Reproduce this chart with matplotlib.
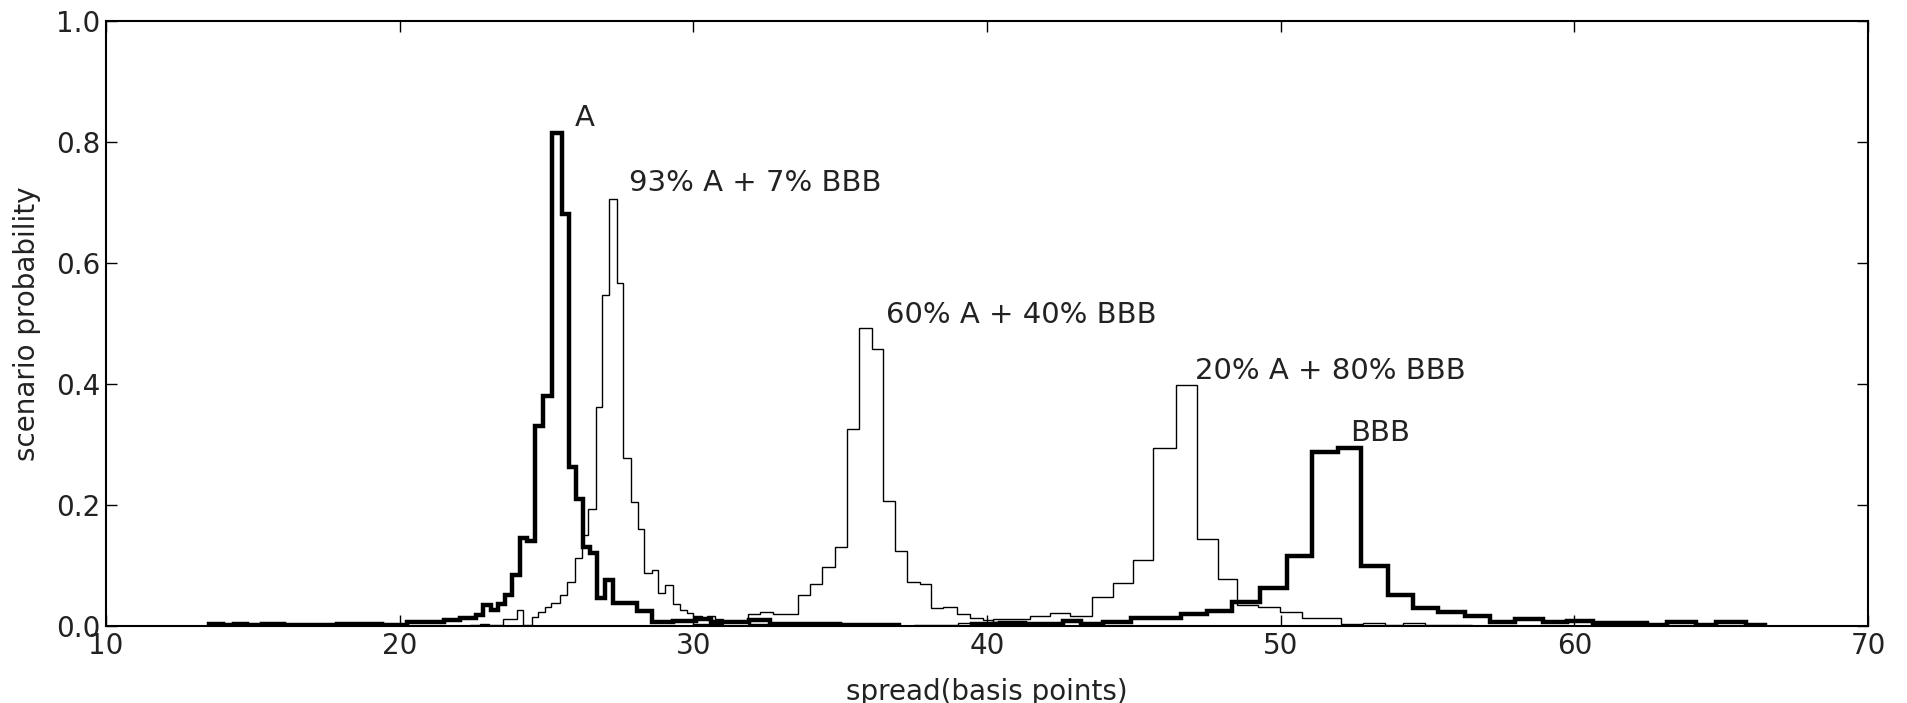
import matplotlib
matplotlib.use("Agg")
import matplotlib.pyplot as plt

# ---- data ----
edges_A = [13.5, 14.0, 14.35, 14.8, 15.3, 16.05, 17.85, 18.65, 19.4, 20.25, 20.9, 21.5,
           22.05, 22.6, 22.85, 23.1, 23.36, 23.6, 23.81, 24.10, 24.35, 24.61, 24.89, 25.20,
           25.52, 25.77, 26.00, 26.25, 26.48, 26.71, 26.99, 27.28, 28.07, 28.58, 29.3, 30.1,
           30.6, 31.9, 32.6, 35.0, 37.0]
prob_A = [0.004, 0.001, 0.004, 0.001, 0.004, 0.001, 0.004, 0.004, 0.002, 0.006, 0.007, 0.010,
          0.014, 0.018, 0.035, 0.026, 0.037, 0.051, 0.084, 0.145, 0.140, 0.330, 0.380, 0.815,
          0.680, 0.262, 0.210, 0.130, 0.120, 0.046, 0.076, 0.038, 0.024, 0.007, 0.009, 0.012,
          0.007, 0.010, 0.004, 0.002]

edges_93 = [22.4, 22.75, 23.05, 23.53, 23.98, 24.21, 24.49, 24.72, 24.95, 25.17, 25.46, 25.69,
            25.97, 26.20, 26.42, 26.68, 26.88, 27.13, 27.39, 27.62, 27.88, 28.10, 28.33, 28.58,
            28.81, 29.03, 29.30, 29.54, 29.77, 30.0, 30.28, 30.45, 30.74, 31.02, 31.87, 33.0]
prob_93 = [0.002, 0.004, 0.002, 0.012, 0.026, 0.002, 0.015, 0.023, 0.031, 0.038, 0.051, 0.073,
           0.112, 0.150, 0.194, 0.362, 0.547, 0.706, 0.566, 0.277, 0.205, 0.161, 0.087, 0.092,
           0.054, 0.068, 0.037, 0.027, 0.021, 0.016, 0.014, 0.016, 0.012, 0.008, 0.003]

edges_60 = [30.0, 31.0, 31.87, 32.27, 32.72, 33.57, 33.97, 34.37, 34.82, 35.22, 35.64, 36.07,
            36.47, 36.87, 37.26, 37.72, 38.11, 38.51, 38.97, 39.42, 39.87, 40.21, 41.0, 42.0]
prob_60 = [0.003, 0.006, 0.020, 0.0225, 0.019, 0.051, 0.070, 0.097, 0.131, 0.326, 0.492, 0.457,
           0.206, 0.124, 0.073, 0.070, 0.029, 0.032, 0.020, 0.014, 0.010, 0.006, 0.002]

edges_20 = [37.5, 39.0, 40.21, 40.9, 41.46, 42.14, 42.83, 43.56, 44.30, 44.98, 45.66, 46.43,
            47.14, 47.87, 48.53, 49.24, 49.97, 50.71, 52.07, 52.81, 53.55, 54.17, 54.91, 56.5]
prob_20 = [0.002, 0.005, 0.011, 0.012, 0.016, 0.022, 0.016, 0.048, 0.0705, 0.109, 0.294, 0.398,
           0.143, 0.077, 0.035, 0.031, 0.0225, 0.014, 0.003, 0.005, 0.002, 0.005, 0.001]

edges_BBB = [39.5, 40.44, 41.3, 42.6, 43.2, 43.96, 44.92, 46.6, 47.48, 48.33, 49.29, 50.20,
             51.05, 51.96, 52.75, 53.66, 54.51, 55.37, 56.27, 57.12, 57.98, 58.94, 59.74,
             60.64, 62.46, 63.14, 64.16, 64.84, 65.86, 66.5]
prob_BBB = [0.003, 0.005, 0.003, 0.008, 0.003, 0.007, 0.013, 0.019, 0.025, 0.040, 0.062, 0.115,
            0.288, 0.294, 0.099, 0.051, 0.030, 0.023, 0.016, 0.007, 0.011, 0.006, 0.008, 0.005,
            0.002, 0.006, 0.002, 0.006, 0.001]

labels = ["A", "93% A + 7% BBB", "60% A + 40% BBB", "20% A + 80% BBB", "BBB"]
label_x = [25.97, 27.8, 36.56, 47.08, 52.38]
label_y = [0.826, 0.718, 0.501, 0.408, 0.305]

x_ticks = [10, 20, 30, 40, 50, 60, 70]
y_ticks = [0.0, 0.2, 0.4, 0.6, 0.8, 1.0]

# ---- figure ----
TXT = "#222222"
fig = plt.figure(figsize=(19.07, 7.03), dpi=100)
ax = fig.add_axes([106 / 1907, 1 - 626 / 703, (1868 - 106) / 1907, (626 - 20.5) / 703])

ax.stairs(prob_A, edges_A, color="black", linewidth=3.2, joinstyle="miter")
ax.stairs(prob_BBB, edges_BBB, color="black", linewidth=3.2, joinstyle="miter")
ax.stairs(prob_93, edges_93, color="black", linewidth=1.0, joinstyle="miter")
ax.stairs(prob_60, edges_60, color="black", linewidth=1.0, joinstyle="miter")
ax.stairs(prob_20, edges_20, color="black", linewidth=1.0, joinstyle="miter")

for t, x, y in zip(labels, label_x, label_y):
    ax.text(x, y, t, fontsize=21, color=TXT, ha="left", va="baseline")

ax.set_xlim(10, 70)
ax.set_ylim(0, 1.0)
ax.set_xticks(x_ticks)
ax.set_yticks(y_ticks)
ax.set_xticklabels([str(v) for v in x_ticks])
ax.set_yticklabels([f"{v:.1f}" for v in y_ticks])
ax.tick_params(direction="in", length=8, width=1.0, top=True, right=True,
               labelsize=20, labelcolor=TXT, pad=4)
for s in ax.spines.values():
    s.set_linewidth(1.5)

ax.set_xlabel("spread(basis points)", fontsize=20, color=TXT, labelpad=13)
ax.set_ylabel("scenario probability", fontsize=20, color=TXT, labelpad=11)

fig.savefig("out.png", dpi=100)
